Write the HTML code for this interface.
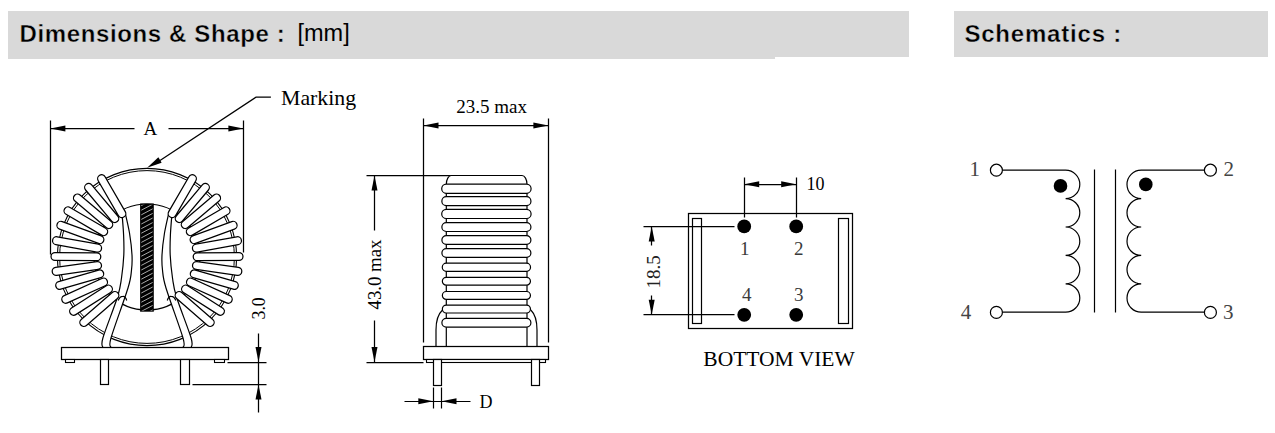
<!DOCTYPE html>
<html><head><meta charset="utf-8"><style>
html,body{margin:0;padding:0;background:#fff;}
body{width:1275px;height:433px;overflow:hidden;position:relative;}
.bar{position:absolute;background:#d9d9d9;}
.h{position:absolute;font-family:"Liberation Sans",sans-serif;font-weight:bold;color:#000;white-space:nowrap;-webkit-text-stroke:0.4px #d9d9d9;}
svg{position:absolute;left:0;top:0;}
</style></head><body>
<div class="bar" style="left:8px;top:11px;width:767px;height:47.5px"></div>
<div class="bar" style="left:775px;top:11px;width:134px;height:46.4px"></div>
<div class="bar" style="left:953.5px;top:11px;width:314.5px;height:46.4px"></div>
<div class="h" style="left:19.5px;top:20px;font-size:24px;letter-spacing:0.62px">Dimensions &amp; Shape :</div>
<div class="h" style="left:297.5px;top:20px;font-size:23.5px;font-weight:normal;-webkit-text-stroke:0">[mm]</div>
<div class="h" style="left:964.4px;top:20px;font-size:24px;letter-spacing:0.8px">Schematics :</div>
<svg width="1275" height="433" viewBox="0 0 1275 433">
<ellipse cx="147" cy="257" rx="89.6" ry="88.6" fill="none" stroke="#000" stroke-width="1.1"/>
<ellipse cx="147" cy="257" rx="87.4" ry="86.4" fill="none" stroke="#000" stroke-width="1.0"/>
<circle cx="147" cy="257" r="53" fill="none" stroke="#000" stroke-width="1.2"/>
<rect x="140.1" y="203.5" width="13.7" height="108.2" fill="#000"/>
<clipPath id="hc"><rect x="141.3" y="204.7" width="11.3" height="106"/></clipPath>
<path d="M140,183.30 L154,175.90 M140,187.90 L154,180.50 M140,192.50 L154,185.10 M140,197.10 L154,189.70 M140,201.70 L154,194.30 M140,206.30 L154,198.90 M140,210.90 L154,203.50 M140,215.50 L154,208.10 M140,220.10 L154,212.70 M140,224.70 L154,217.30 M140,229.30 L154,221.90 M140,233.90 L154,226.50 M140,238.50 L154,231.10 M140,243.10 L154,235.70 M140,247.70 L154,240.30 M140,252.30 L154,244.90 M140,256.90 L154,249.50 M140,261.50 L154,254.10 M140,266.10 L154,258.70 M140,270.70 L154,263.30 M140,275.30 L154,267.90 M140,279.90 L154,272.50 M140,284.50 L154,277.10 M140,289.10 L154,281.70 M140,293.70 L154,286.30 M140,298.30 L154,290.90 M140,302.90 L154,295.50 M140,307.50 L154,300.10 M140,312.10 L154,304.70 M140,316.70 L154,309.30 M140,321.30 L154,313.90 M140,325.90 L154,318.50 M140,330.50 L154,323.10 M140,335.10 L154,327.70 M140,339.70 L154,332.30 M140,344.30 L154,336.90 M140,348.90 L154,341.50 M140,353.50 L154,346.10 M140,358.10 L154,350.70 M140,362.70 L154,355.30 M140,367.30 L154,359.90 M140,371.90 L154,364.50 M140,376.50 L154,369.10 M140,381.10 L154,373.70 M140,385.70 L154,378.30 M140,390.30 L154,382.90 M140,394.90 L154,387.50 M140,399.50 L154,392.10 M140,404.10 L154,396.70 M140,408.70 L154,401.30" stroke="#bdbdbd" stroke-width="0.9" clip-path="url(#hc)"/>
<path d="M172.10,212.00 C171.82,215.83 170.72,227.83 170.40,235.00 C170.08,242.17 169.85,247.83 170.20,255.00 C170.55,262.17 171.45,271.00 172.50,278.00 C173.55,285.00 173.40,287.00 176.50,297.00 C179.60,307.00 188.67,329.58 191.10,338.00 C193.53,346.42 191.10,345.92 191.10,347.50 L183.00,347.50 C183.00,345.92 185.83,347.92 183.00,338.00 C180.17,328.08 169.42,299.33 166.00,288.00 C162.58,276.67 163.17,275.50 162.50,270.00 C161.83,264.50 161.67,261.17 162.00,255.00 C162.33,248.83 163.33,240.17 164.50,233.00 C165.67,225.83 168.25,215.50 169.00,212.00Z" fill="#fff" stroke="none"/><path d="M172.10,212.00 C171.82,215.83 170.72,227.83 170.40,235.00 C170.08,242.17 169.85,247.83 170.20,255.00 C170.55,262.17 171.45,271.00 172.50,278.00 C173.55,285.00 173.40,287.00 176.50,297.00 C179.60,307.00 188.67,329.58 191.10,338.00 C193.53,346.42 191.10,345.92 191.10,347.50" fill="none" stroke="#000" stroke-width="1.2"/><path d="M169.00,212.00 C168.25,215.50 165.67,225.83 164.50,233.00 C163.33,240.17 162.33,248.83 162.00,255.00 C161.67,261.17 161.83,264.50 162.50,270.00 C163.17,275.50 162.58,276.67 166.00,288.00 C169.42,299.33 180.17,328.08 183.00,338.00 C185.83,347.92 183.00,345.92 183.00,347.50" fill="none" stroke="#000" stroke-width="1.2"/>
<path d="M121.90,212.00 C122.18,215.83 123.28,227.83 123.60,235.00 C123.92,242.17 124.15,247.83 123.80,255.00 C123.45,262.17 122.55,271.00 121.50,278.00 C120.45,285.00 120.60,287.00 117.50,297.00 C114.40,307.00 105.33,329.58 102.90,338.00 C100.47,346.42 102.90,345.92 102.90,347.50 L111.00,347.50 C111.00,345.92 108.17,347.92 111.00,338.00 C113.83,328.08 124.58,299.33 128.00,288.00 C131.42,276.67 130.83,275.50 131.50,270.00 C132.17,264.50 132.33,261.17 132.00,255.00 C131.67,248.83 130.67,240.17 129.50,233.00 C128.33,225.83 125.75,215.50 125.00,212.00Z" fill="#fff" stroke="none"/><path d="M121.90,212.00 C122.18,215.83 123.28,227.83 123.60,235.00 C123.92,242.17 124.15,247.83 123.80,255.00 C123.45,262.17 122.55,271.00 121.50,278.00 C120.45,285.00 120.60,287.00 117.50,297.00 C114.40,307.00 105.33,329.58 102.90,338.00 C100.47,346.42 102.90,345.92 102.90,347.50" fill="none" stroke="#000" stroke-width="1.2"/><path d="M125.00,212.00 C125.75,215.50 128.33,225.83 129.50,233.00 C130.67,240.17 131.67,248.83 132.00,255.00 C132.33,261.17 132.17,264.50 131.50,270.00 C130.83,275.50 131.42,276.67 128.00,288.00 C124.58,299.33 113.83,328.08 111.00,338.00 C108.17,347.92 111.00,345.92 111.00,347.50" fill="none" stroke="#000" stroke-width="1.2"/>
<path d="M167.30,300.5 Q168.50,296 171.20,296.3 Q174.50,296.5 175.80,300.5" fill="none" stroke="#000" stroke-width="1.2"/>
<path d="M126.70,300.5 Q125.50,296 122.80,296.3 Q119.50,296.5 118.20,300.5" fill="none" stroke="#000" stroke-width="1.2"/>
<line x1="197.20" y1="256.74" x2="239.00" y2="256.52" stroke="#000" stroke-width="9.2" stroke-linecap="round"/><line x1="197.20" y1="256.74" x2="239.00" y2="256.52" stroke="#fff" stroke-width="6.699999999999999" stroke-linecap="round"/>
<line x1="96.80" y1="256.74" x2="55.00" y2="256.52" stroke="#000" stroke-width="9.2" stroke-linecap="round"/><line x1="96.80" y1="256.74" x2="55.00" y2="256.52" stroke="#fff" stroke-width="6.699999999999999" stroke-linecap="round"/>
<line x1="196.47" y1="265.55" x2="237.82" y2="271.38" stroke="#000" stroke-width="9.2" stroke-linecap="round"/><line x1="196.47" y1="265.55" x2="237.82" y2="271.38" stroke="#fff" stroke-width="6.699999999999999" stroke-linecap="round"/>
<line x1="97.53" y1="265.55" x2="56.18" y2="271.38" stroke="#000" stroke-width="9.2" stroke-linecap="round"/><line x1="97.53" y1="265.55" x2="56.18" y2="271.38" stroke="#fff" stroke-width="6.699999999999999" stroke-linecap="round"/>
<line x1="196.41" y1="248.11" x2="237.48" y2="240.72" stroke="#000" stroke-width="9.2" stroke-linecap="round"/><line x1="196.41" y1="248.11" x2="237.48" y2="240.72" stroke="#fff" stroke-width="6.699999999999999" stroke-linecap="round"/>
<line x1="97.59" y1="248.11" x2="56.52" y2="240.72" stroke="#000" stroke-width="9.2" stroke-linecap="round"/><line x1="97.59" y1="248.11" x2="56.52" y2="240.72" stroke="#fff" stroke-width="6.699999999999999" stroke-linecap="round"/>
<line x1="194.29" y1="273.86" x2="234.31" y2="285.37" stroke="#000" stroke-width="9.2" stroke-linecap="round"/><line x1="194.29" y1="273.86" x2="234.31" y2="285.37" stroke="#fff" stroke-width="6.699999999999999" stroke-linecap="round"/>
<line x1="99.71" y1="273.86" x2="59.69" y2="285.37" stroke="#000" stroke-width="9.2" stroke-linecap="round"/><line x1="99.71" y1="273.86" x2="59.69" y2="285.37" stroke="#fff" stroke-width="6.699999999999999" stroke-linecap="round"/>
<line x1="194.11" y1="239.67" x2="233.11" y2="225.32" stroke="#000" stroke-width="9.2" stroke-linecap="round"/><line x1="194.11" y1="239.67" x2="233.11" y2="225.32" stroke="#fff" stroke-width="6.699999999999999" stroke-linecap="round"/>
<line x1="99.89" y1="239.67" x2="60.89" y2="225.32" stroke="#000" stroke-width="9.2" stroke-linecap="round"/><line x1="99.89" y1="239.67" x2="60.89" y2="225.32" stroke="#fff" stroke-width="6.699999999999999" stroke-linecap="round"/>
<line x1="190.49" y1="282.08" x2="228.22" y2="299.28" stroke="#000" stroke-width="9.2" stroke-linecap="round"/><line x1="190.49" y1="282.08" x2="228.22" y2="299.28" stroke="#fff" stroke-width="6.699999999999999" stroke-linecap="round"/>
<line x1="103.51" y1="282.08" x2="65.78" y2="299.28" stroke="#000" stroke-width="9.2" stroke-linecap="round"/><line x1="103.51" y1="282.08" x2="65.78" y2="299.28" stroke="#fff" stroke-width="6.699999999999999" stroke-linecap="round"/>
<line x1="190.34" y1="231.67" x2="225.98" y2="210.85" stroke="#000" stroke-width="9.2" stroke-linecap="round"/><line x1="190.34" y1="231.67" x2="225.98" y2="210.85" stroke="#fff" stroke-width="6.699999999999999" stroke-linecap="round"/>
<line x1="103.66" y1="231.67" x2="68.02" y2="210.85" stroke="#000" stroke-width="9.2" stroke-linecap="round"/><line x1="103.66" y1="231.67" x2="68.02" y2="210.85" stroke="#fff" stroke-width="6.699999999999999" stroke-linecap="round"/>
<line x1="185.58" y1="289.12" x2="220.37" y2="311.29" stroke="#000" stroke-width="9.2" stroke-linecap="round"/><line x1="185.58" y1="289.12" x2="220.37" y2="311.29" stroke="#fff" stroke-width="6.699999999999999" stroke-linecap="round"/>
<line x1="108.42" y1="289.12" x2="73.63" y2="311.29" stroke="#000" stroke-width="9.2" stroke-linecap="round"/><line x1="108.42" y1="289.12" x2="73.63" y2="311.29" stroke="#fff" stroke-width="6.699999999999999" stroke-linecap="round"/>
<line x1="185.29" y1="224.53" x2="216.52" y2="198.05" stroke="#000" stroke-width="9.2" stroke-linecap="round"/><line x1="185.29" y1="224.53" x2="216.52" y2="198.05" stroke="#fff" stroke-width="6.699999999999999" stroke-linecap="round"/>
<line x1="108.71" y1="224.53" x2="77.48" y2="198.05" stroke="#000" stroke-width="9.2" stroke-linecap="round"/><line x1="108.71" y1="224.53" x2="77.48" y2="198.05" stroke="#fff" stroke-width="6.699999999999999" stroke-linecap="round"/>
<line x1="179.17" y1="295.53" x2="210.18" y2="322.42" stroke="#000" stroke-width="9.2" stroke-linecap="round"/><line x1="179.17" y1="295.53" x2="210.18" y2="322.42" stroke="#fff" stroke-width="6.699999999999999" stroke-linecap="round"/>
<line x1="114.83" y1="295.53" x2="83.82" y2="322.42" stroke="#000" stroke-width="9.2" stroke-linecap="round"/><line x1="114.83" y1="295.53" x2="83.82" y2="322.42" stroke="#fff" stroke-width="6.699999999999999" stroke-linecap="round"/>
<line x1="179.27" y1="218.54" x2="205.37" y2="187.43" stroke="#000" stroke-width="9.2" stroke-linecap="round"/><line x1="179.27" y1="218.54" x2="205.37" y2="187.43" stroke="#fff" stroke-width="6.699999999999999" stroke-linecap="round"/>
<line x1="114.73" y1="218.54" x2="88.63" y2="187.43" stroke="#000" stroke-width="9.2" stroke-linecap="round"/><line x1="114.73" y1="218.54" x2="88.63" y2="187.43" stroke="#fff" stroke-width="6.699999999999999" stroke-linecap="round"/>
<line x1="172.18" y1="213.57" x2="192.38" y2="178.71" stroke="#000" stroke-width="9.2" stroke-linecap="round"/><line x1="172.18" y1="213.57" x2="192.38" y2="178.71" stroke="#fff" stroke-width="6.699999999999999" stroke-linecap="round"/>
<line x1="121.82" y1="213.57" x2="101.62" y2="178.71" stroke="#000" stroke-width="9.2" stroke-linecap="round"/><line x1="121.82" y1="213.57" x2="101.62" y2="178.71" stroke="#fff" stroke-width="6.699999999999999" stroke-linecap="round"/>
<rect x="61.5" y="347.5" width="167" height="12" fill="#fff" stroke="#000" stroke-width="1.25"/>
<rect x="65.5" y="359.5" width="9" height="3" fill="#fff" stroke="#000" stroke-width="1.1"/>
<rect x="214.5" y="359.5" width="10" height="3" fill="#fff" stroke="#000" stroke-width="1.1"/>
<rect x="100.5" y="359.5" width="8" height="25" fill="#fff" stroke="#000" stroke-width="1.2"/>
<rect x="180.5" y="359.5" width="9" height="25" fill="#fff" stroke="#000" stroke-width="1.2"/>
<path d="M50.5,120.5 V254.5 M243.5,120.5 V252.5 M50.5,128.5 H134.5 M168.5,128.5 H243.5" stroke="#000" stroke-width="1.25" fill="none"/>
<path d="M50.40,128.40 L65.40,125.40 L65.40,131.40Z" fill="#000"/>
<path d="M243.40,128.40 L228.40,131.40 L228.40,125.40Z" fill="#000"/>
<text x="143.5" y="135.1" font-family="Liberation Serif" font-size="19" fill="#000">A</text>
<path d="M270.9,97.2 H256 L160,160.5" stroke="#000" stroke-width="1.25" fill="none"/>
<path d="M147.10,167.70 L158.40,157.33 L161.65,162.84Z" fill="#000"/>
<text x="281" y="104.9" font-family="Liberation Serif" font-size="21.8" fill="#000">Marking</text>
<path d="M227.5,362.5 H266.5 M192.5,384.5 H266.5 M258.5,333.5 V412.5" stroke="#000" stroke-width="1.25" fill="none"/>
<path d="M258.50,362.10 L255.50,347.10 L261.50,347.10Z" fill="#000"/>
<path d="M258.50,384.40 L261.50,399.40 L255.50,399.40Z" fill="#000"/>
<text transform="translate(265,319.5) rotate(-90)" font-family="Liberation Serif" font-size="17.8" fill="#000">3.0</text>
<path d="M423.5,118.5 V342.5 M548.5,118.5 V342.5 M423.5,125.5 H548.5" stroke="#000" stroke-width="1.25" fill="none"/>
<path d="M423.50,125.60 L438.50,122.60 L438.50,128.60Z" fill="#000"/>
<path d="M548.40,125.60 L533.40,128.60 L533.40,122.60Z" fill="#000"/>
<text x="456.2" y="112.7" font-family="Liberation Serif" font-size="19" fill="#000">23.5 max</text>
<path d="M366.5,175.5 H452.5 M366.5,362.5 H423.5 M374.5,175.5 V230.5 M374.5,320.5 V362.5" stroke="#000" stroke-width="1.25" fill="none"/>
<path d="M374.50,175.50 L377.50,190.50 L371.50,190.50Z" fill="#000"/>
<path d="M374.50,362.00 L371.50,347.00 L377.50,347.00Z" fill="#000"/>
<text transform="translate(381.2,309.5) rotate(-90)" font-family="Liberation Serif" font-size="18.8" fill="#000">43.0 max</text>
<path d="M446.3,346 V184.4 A5,8.9 0 0 1 451.3,175.5 H522 A5,8.9 0 0 1 527,184.4 V346" fill="#fff" stroke="#000" stroke-width="1.2"/>
<path d="M442.5,310 Q436,316 436,330 V346 M530.8,310 Q537,316 537,330 V346" fill="none" stroke="#000" stroke-width="1.2"/>
<path d="M446.3,184.10 H526.5 A4.60,4.60 0 0 1 526.5,193.30 H446.3 A4.60,4.60 0 0 1 446.3,184.10Z" fill="#fff" stroke="#000" stroke-width="1.2"/>
<path d="M446.3,196.70 H526.5 A4.45,4.45 0 0 1 526.5,205.60 H446.3 A4.45,4.45 0 0 1 446.3,196.70Z" fill="#fff" stroke="#000" stroke-width="1.2"/>
<path d="M446.3,209.30 H526.5 A4.60,4.60 0 0 1 526.5,218.50 H446.3 A4.60,4.60 0 0 1 446.3,209.30Z" fill="#fff" stroke="#000" stroke-width="1.2"/>
<path d="M446.3,222.60 H526.5 A4.45,4.45 0 0 1 526.5,231.50 H446.3 A4.45,4.45 0 0 1 446.3,222.60Z" fill="#fff" stroke="#000" stroke-width="1.2"/>
<path d="M446.3,235.60 H526.5 A4.40,4.40 0 0 1 526.5,244.40 H446.3 A4.40,4.40 0 0 1 446.3,235.60Z" fill="#fff" stroke="#000" stroke-width="1.2"/>
<path d="M446.3,248.60 H526.5 A4.40,4.40 0 0 1 526.5,257.40 H446.3 A4.40,4.40 0 0 1 446.3,248.60Z" fill="#fff" stroke="#000" stroke-width="1.2"/>
<path d="M446.3,263.20 H526.5 A4.05,4.05 0 0 1 526.5,271.30 H446.3 A4.05,4.05 0 0 1 446.3,263.20Z" fill="#fff" stroke="#000" stroke-width="1.2"/>
<path d="M446.3,277.30 H526.5 A3.95,3.95 0 0 1 526.5,285.20 H446.3 A3.95,3.95 0 0 1 446.3,277.30Z" fill="#fff" stroke="#000" stroke-width="1.2"/>
<path d="M446.3,291.50 H526.5 A3.95,3.95 0 0 1 526.5,299.40 H446.3 A3.95,3.95 0 0 1 446.3,291.50Z" fill="#fff" stroke="#000" stroke-width="1.2"/>
<path d="M446.3,305.10 H526.5 A3.95,3.95 0 0 1 526.5,313.00 H446.3 A3.95,3.95 0 0 1 446.3,305.10Z" fill="#fff" stroke="#000" stroke-width="1.2"/>
<path d="M446.3,318.40 H526.5 A4.40,4.40 0 0 1 526.5,327.20 H446.3 A4.40,4.40 0 0 1 446.3,318.40Z" fill="#fff" stroke="#000" stroke-width="1.2"/>
<rect x="423.5" y="346.5" width="125" height="13" fill="#fff" stroke="#000" stroke-width="1.25"/>
<rect x="426.5" y="359.5" width="119" height="3" fill="#fff" stroke="#000" stroke-width="1.1"/>
<rect x="433.5" y="359.5" width="8" height="26" fill="#fff" stroke="#000" stroke-width="1.2"/>
<rect x="531.5" y="359.5" width="8" height="26" fill="#fff" stroke="#000" stroke-width="1.2"/>
<path d="M433.5,387.5 V408.5 M441.5,387.5 V408.5 M404.5,401.5 H470.5" stroke="#000" stroke-width="1.2" fill="none"/>
<path d="M433.30,401.20 L418.30,404.20 L418.30,398.20Z" fill="#000"/>
<path d="M441.50,401.20 L456.50,398.20 L456.50,404.20Z" fill="#000"/>
<text x="479.5" y="407.5" font-family="Liberation Serif" font-size="18" fill="#000">D</text>
<rect x="688.5" y="213.5" width="164" height="115" fill="none" stroke="#000" stroke-width="1.25"/>
<rect x="692.5" y="218.5" width="9" height="105" fill="none" stroke="#000" stroke-width="1.2"/>
<rect x="838.5" y="218.5" width="10" height="105" fill="none" stroke="#000" stroke-width="1.2"/>
<circle cx="744.2" cy="226.4" r="6.9" fill="#000"/>
<circle cx="796.2" cy="226.4" r="6.9" fill="#000"/>
<circle cx="744.2" cy="314.8" r="6.9" fill="#000"/>
<circle cx="796.2" cy="314.8" r="6.9" fill="#000"/>
<path d="M744.5,177.5 V217.5 M796.5,177.5 V217.5 M744.5,184.5 H796.5 M643.5,226.5 H734.5 M643.5,314.5 H734.5 M651.5,226.5 V245.5 M651.5,295.5 V314.5" stroke="#000" stroke-width="1.25" fill="none"/>
<path d="M744.20,184.20 L759.20,181.20 L759.20,187.20Z" fill="#000"/>
<path d="M796.20,184.20 L781.20,187.20 L781.20,181.20Z" fill="#000"/>
<path d="M651.70,226.40 L654.70,241.40 L648.70,241.40Z" fill="#000"/>
<path d="M651.70,314.80 L648.70,299.80 L654.70,299.80Z" fill="#000"/>
<text x="806.6" y="190" font-family="Liberation Serif" font-size="18" fill="#000">10</text>
<text transform="translate(659.5,288.6) rotate(-90)" font-family="Liberation Serif" font-size="19" fill="#222">18.5</text>
<text x="740" y="254.7" font-family="Liberation Serif" font-size="19" fill="#3a3a3a">1</text>
<text x="794" y="254.7" font-family="Liberation Serif" font-size="19" fill="#3a3a3a">2</text>
<text x="742" y="301.3" font-family="Liberation Serif" font-size="19" fill="#3a3a3a">4</text>
<text x="794" y="301.3" font-family="Liberation Serif" font-size="19" fill="#3a3a3a">3</text>
<text x="703.3" y="365.9" font-family="Liberation Serif" font-size="21.5" fill="#000">BOTTOM VIEW</text>
<path d="M1002.4,170.2 H1065.6  A14.2,14.2 0 0 1 1065.6,198.60 A14.2,14.2 0 0 1 1065.6,227.00 A14.2,14.2 0 0 1 1065.6,255.40 A14.2,14.2 0 0 1 1065.6,283.80 A14.2,14.2 0 0 1 1065.6,312.20 H1002.4" fill="none" stroke="#000" stroke-width="1.2"/>
<path d="M1204.2,170.2 H1141.2  A14.2,14.2 0 0 0 1141.2,198.60 A14.2,14.2 0 0 0 1141.2,227.00 A14.2,14.2 0 0 0 1141.2,255.40 A14.2,14.2 0 0 0 1141.2,283.80 A14.2,14.2 0 0 0 1141.2,312.20 H1204.2" fill="none" stroke="#000" stroke-width="1.2"/>
<path d="M1094.5,169.5 V312.5 M1115.5,169.5 V312.5" stroke="#000" stroke-width="1.2"/>
<circle cx="996.4" cy="170.2" r="6" fill="#fff" stroke="#000" stroke-width="1.2"/>
<circle cx="996.4" cy="312.4" r="6" fill="#fff" stroke="#000" stroke-width="1.2"/>
<circle cx="1210.4" cy="170.2" r="6" fill="#fff" stroke="#000" stroke-width="1.2"/>
<circle cx="1210.4" cy="312.4" r="6" fill="#fff" stroke="#000" stroke-width="1.2"/>
<circle cx="1060.5" cy="185.9" r="6.8" fill="#000"/>
<circle cx="1145.8" cy="184.4" r="6.8" fill="#000"/>
<text x="969.5" y="175.9" font-family="Liberation Serif" font-size="21" fill="#444">1</text>
<text x="960.8" y="319.4" font-family="Liberation Serif" font-size="21" fill="#444">4</text>
<text x="1223.5" y="175.9" font-family="Liberation Serif" font-size="21" fill="#444">2</text>
<text x="1223" y="319.4" font-family="Liberation Serif" font-size="21" fill="#444">3</text>
</svg>
</body></html>
